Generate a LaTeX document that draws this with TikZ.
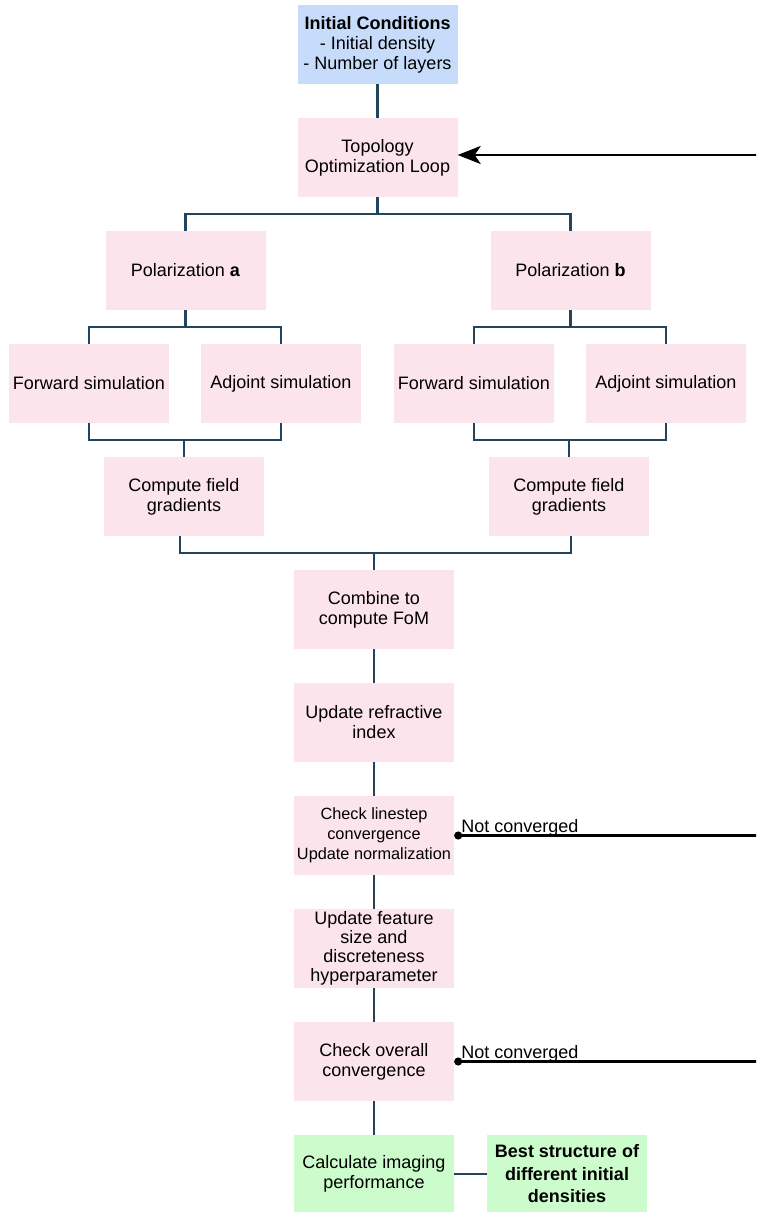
\documentclass[tikz,border=0pt]{standalone}
\usepackage{fontspec}
\setmainfont{Liberation Sans}
\usetikzlibrary{arrows.meta,calc}
\definecolor{pinkc}{HTML}{FCE4EC}
\definecolor{bluec}{HTML}{C6DCFA}
\definecolor{greenc}{HTML}{CCFCCB}
\definecolor{linec}{HTML}{23445D}
\begin{document}
\begin{tikzpicture}[x=1pt,y=-1pt,
  box/.style={rectangle, fill=pinkc, minimum width=160pt, minimum height=79pt, align=center, inner sep=0pt, font=\fontsize{18}{20}\selectfont},
  smallbox/.style={box, font=\fontsize{16.3}{20}\selectfont},
  conn/.style={draw=linec, line width=2.4pt},
  loopline/.style={draw=black, line width=2.2pt},
  lbl/.style={font=\fontsize{18}{20}\selectfont, inner sep=0pt, anchor=base west}]
\useasboundingbox (0,0) rectangle (756,1212);
\clip (0,0) rectangle (756,1212);
% nodes
\node[box, fill=bluec] (init) at (377.5,44.5) {\textbf{Initial Conditions}\\- Initial density\\- Number of layers};
\node[box] (topo) at (377.5,157.5) {Topology\\Optimization Loop};
\node[box] (pola) at (185.5,270.5) {Polarization \textbf{a}};
\node[box] (polb) at (570.5,270.5) {Polarization \textbf{b}};
\node[box] (fwa) at (89,383.5) {Forward simulation};
\node[box] (adja) at (281,383.5) {Adjoint simulation};
\node[box] (fwb) at (474,383.5) {Forward simulation};
\node[box] (adjb) at (666,383.5) {Adjoint simulation};
\node[box] (cfa) at (184,496.5) {Compute field\\gradients};
\node[box] (cfb) at (569,496.5) {Compute field\\gradients};
\node[box] (fom) at (374,609.5) {Combine to\\compute FoM};
\node[box] (upd) at (374,722.5) {Update refractive\\index};
\node[smallbox] (cls) at (374,835.5) {Check linestep\\convergence\\Update normalization};
\node[box, font=\fontsize{18}{19}\selectfont] (feat) at (374,948.5) {Update feature\\size and\\discreteness\\hyperparameter};
\node[box] (cov) at (374,1061.5) {Check overall\\convergence};
\node[box, fill=greenc, minimum height=78pt] (calc) at (374,1174) {Calculate imaging\\performance};
\node[box, fill=greenc, minimum height=78pt, font=\fontsize{18}{22.5}\selectfont\bfseries] (best) at (567,1174) {Best structure of\\different initial\\densities};
% connectors
\draw[conn] (init.south) -- (topo.north);
\draw[conn] (topo.south) -- ++(0,17) -| (pola.north);
\draw[conn] (topo.south) -- ++(0,17) -| (polb.north);
\draw[conn] (pola.south) -- ++(0,17) -| (fwa.north);
\draw[conn] (pola.south) -- ++(0,17) -| (adja.north);
\draw[conn] (polb.south) -- ++(0,17) -| (fwb.north);
\draw[conn] (polb.south) -- ++(0,17) -| (adjb.north);
\draw[conn] (fwa.south) -- ++(0,17) -| (cfa.north);
\draw[conn] (adja.south) -- ++(0,17) -| (cfa.north);
\draw[conn] (fwb.south) -- ++(0,17) -| (cfb.north);
\draw[conn] (adjb.south) -- ++(0,17) -| (cfb.north);
\draw[conn] ([xshift=-4pt]cfa.south) -- ++(0,17) -| (fom.north);
\draw[conn] ([xshift=2pt]cfb.south) -- ++(0,17) -| (fom.north);
\draw[conn] (fom.south) -- (upd.north);
\draw[conn] (upd.south) -- (cls.north);
\draw[conn] (cls.south) -- (feat.north);
\draw[conn] (feat.south) -- (cov.north);
\draw[conn] (cov.south) -- (calc.north);
\draw[conn] (calc.east) -- (best.west);
% loop back
\coordinate (turn) at (790,835.5);
\draw[loopline, {Circle[length=8pt]}-{Stealth[length=23pt,width=18pt,inset=6pt]}]
  (cls.east) node[lbl, xshift=6pt, yshift=3pt] {Not converged} -- (turn) |- ([yshift=2.5pt]topo.east);
\draw[loopline, {Circle[length=8pt]}-]
  (cov.east) node[lbl, xshift=6pt, yshift=3pt] {Not converged} -- (cov.east -| turn) -- (turn);
\end{tikzpicture}
\end{document}
